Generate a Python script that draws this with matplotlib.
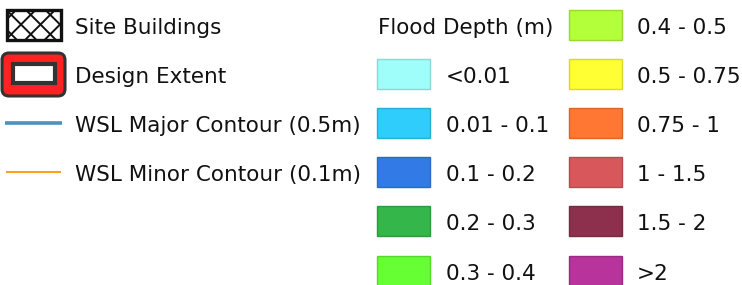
import matplotlib
matplotlib.use("Agg")
import matplotlib.pyplot as plt
from matplotlib.patches import Rectangle, FancyBboxPatch
import numpy as np

# legend content
depth_labels = ["<0.01", "0.01 - 0.1", "0.1 - 0.2", "0.2 - 0.3", "0.3 - 0.4",
                "0.4 - 0.5", "0.5 - 0.75", "0.75 - 1", "1 - 1.5", "1.5 - 2", ">2"]
depth_colors = ["#a0fefa", "#2fcdfb", "#327be6", "#34b64b", "#66ff33",
                "#b2ff3a", "#ffff33", "#ff7733", "#d8575b", "#8d304e", "#b8339b"]
other_labels = ["Site Buildings", "Design Extent",
                "WSL Major Contour (0.5m)", "WSL Minor Contour (0.1m)"]
title = "Flood Depth (m)"

W, H = 742, 285
FS = 15.5
fig = plt.figure(figsize=(W / 100, H / 100), dpi=100)
ax = fig.add_axes([0, 0, 1, 1])
ax.set_xlim(0, W)
ax.set_ylim(H, 0)
ax.axis("off")

pitch = 49.2
txt = dict(fontsize=FS, color="#111111", va="baseline", ha="left", family="DejaVu Sans")

# left block
base0 = 33.5
for i, lab in enumerate(other_labels):
    ax.text(75, base0 + i * pitch, lab, **txt)

# site buildings: cross-hatched box
x0, y0, w, h = 7, 9.5, 54, 30
cx, cy, s = 21, 24.5, 19.5
clip = Rectangle((x0, y0), w, h, facecolor="white", edgecolor="none")
ax.add_patch(clip)
xs = np.array([x0 - 40, x0 + w + 40])
for k in range(-6, 7):
    for sgn in (1, -1):
        ys = cy + sgn * (xs - cx) + k * s
        ln, = ax.plot(xs, ys, color="#111111", lw=1.4, solid_capstyle="butt")
        ln.set_clip_path(clip)
ax.add_patch(Rectangle((x0, y0), w, h, facecolor="none", edgecolor="#111111", lw=2.4))

# design extent
ax.add_patch(FancyBboxPatch((2, 53), 63, 43, boxstyle="round,pad=0,rounding_size=7",
                            facecolor="#ff2222", edgecolor="#333333", lw=2.2))
ax.add_patch(Rectangle((12.5, 64), 42, 19, facecolor="white", edgecolor="#333333", lw=3))

# contours
ax.plot([5, 62], [123, 123], color="#4a92c2", lw=2.6, solid_capstyle="butt")
ax.plot([6, 61], [172, 172], color="#ffa020", lw=1.5, solid_capstyle="butt")

# flood depth block
ax.text(378, base0, title, **txt)
for i, (lab, col) in enumerate(zip(depth_labels, depth_colors)):
    if i < 5:
        px, row, tx = 377, i + 1, 446
    else:
        px, row, tx = 569, i - 5, 637
    base = base0 + row * pitch
    ec = tuple(np.array(matplotlib.colors.to_rgb(col)) * 0.85)
    ax.add_patch(Rectangle((px, base - 24), 53, 30, facecolor=col, edgecolor=ec, lw=1))
    ax.text(tx, base, lab, **txt)

fig.savefig("out.png", dpi=100)
